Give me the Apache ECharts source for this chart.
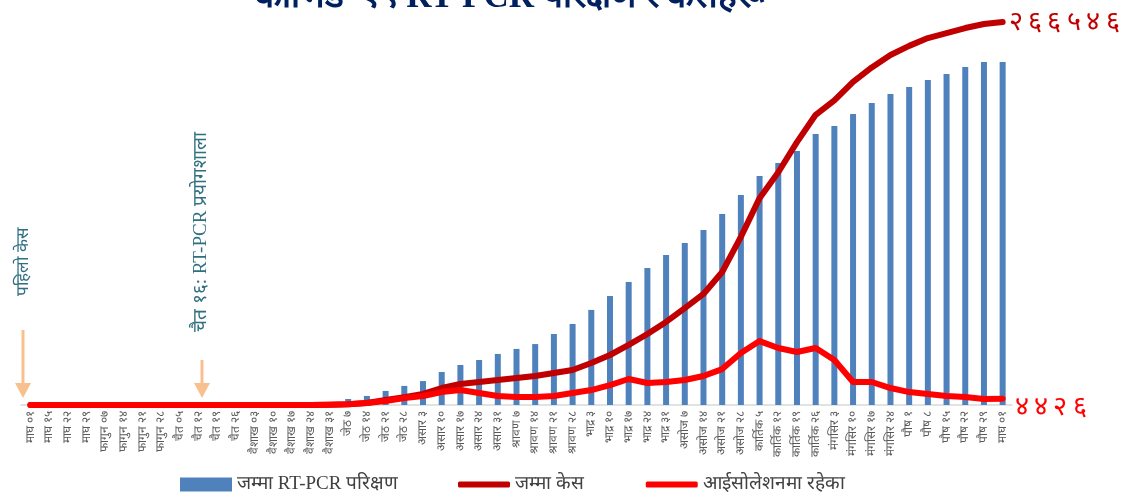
<!DOCTYPE html>
<html>
<head>
<meta charset="utf-8">
<script src="https://cdn.jsdelivr.net/npm/echarts@6/dist/echarts.min.js"></script>
<style>
  html, body { margin: 0; padding: 0; background: #fff; }
  #chart { width: 1135px; height: 493px; }
</style>
</head>
<body>
<div id="chart"></div>
<script>
// x-axis categories (Nepali dates)
const dates = [
  'माघ ०१', 'माघ १५', 'माघ २२', 'माघ २९', 'फागुन ०७', 'फागुन १४', 'फागुन २१', 'फागुन २८',
  'चैत ०५', 'चैत १२', 'चैत १९', 'चैत २६', 'वैशाख ०३', 'वैशाख १०', 'वैशाख १७', 'वैशाख २४',
  'वैशाख ३१', 'जेठ ७', 'जेठ १४', 'जेठ २१', 'जेठ २८', 'असार ३', 'असार १०', 'असार १७',
  'असार २४', 'असार ३१', 'श्रावण ७', 'श्रावण १४', 'श्रावण २१', 'श्रावण २८', 'भाद्र ३', 'भाद्र १०',
  'भाद्र १७', 'भाद्र २४', 'भाद्र ३१', 'असोज ७', 'असोज १४', 'असोज २१', 'असोज २८', 'कार्तिक ५',
  'कार्तिक १२', 'कार्तिक १९', 'कार्तिक २६', 'मंगसिर ३', 'मंगसिर १०', 'मंगसिर १७', 'मंगसिर २४', 'पौष १',
  'पौष ८', 'पौष १५', 'पौष २२', 'पौष २९', 'माघ ०१'
];

// total RT-PCR tests (bars)
const tests = [
  0, 0, 0, 0, 0, 0, 0, 0, 0, 0, 500, 1500, 3000, 5000, 8000, 12000, 18000,
  36000, 54000, 84000, 114000, 143000, 197000, 239000, 269000, 305000, 335000,
  364000, 424000, 484000, 568000, 651000, 735000, 818000, 896000, 968000, 1045000,
  1141000, 1255000, 1368000, 1446000, 1517000, 1619000, 1667000, 1738000, 1804000,
  1858000, 1900000, 1942000, 1977000, 2019000, 2049000, 2049000
];

// total cases
const cases = [
  1, 1, 1, 1, 1, 1, 1, 1, 1, 2, 5, 9, 16, 31, 45, 82, 249,
  500, 1400, 3500, 5500, 7700, 11800, 14600, 16000, 17400, 18800, 20200, 22300,
  24400, 29200, 34800, 41800, 49400, 57800, 67500, 77300, 92600, 117000, 144000,
  162000, 183000, 202000, 212000, 225000, 235000, 243600, 250000, 255400, 258900,
  262400, 265200, 266546
];

// in isolation
const isolation = [
  1, 1, 1, 1, 1, 1, 1, 1, 1, 2, 4, 8, 13, 20, 28, 50, 220,
  500, 1400, 2800, 4900, 6300, 9000, 10400, 8400, 6300, 5600, 5600, 6300,
  8400, 10400, 13900, 18100, 15300, 16000, 17400, 20200, 25000, 36200, 44500,
  39700, 36900, 39700, 31300, 16000, 16000, 11800, 9000, 7700, 6300, 5600, 4200, 4426
];

const legendNames = ['जम्मा RT-PCR परिक्षण', 'जम्मा केस', 'आईसोलेशनमा रहेका'];

const devaDigits = ['०', '१', '२', '३', '४', '५', '६', '७', '८', '९'];
function toDeva(n) {
  // spaced out a little like the original slide
  return String(n).split('').map(d => devaDigits[+d]).join('\u2009');
}

const serif = "'Liberation Serif', 'Noto Serif', serif";
const teal = '#2f6f80';
const arrowColor = '#f9c08f';

let myChart = echarts.init(document.getElementById('chart'));

myChart.setOption({
  animation: false,
  grid: { left: 21, right: 123, top: 20, bottom: 88 },
  legend: [
    {
      data: [{ name: legendNames[0], icon: 'rect' }],
      left: 175, top: 470,
      itemWidth: 52, itemHeight: 14,
      textStyle: { fontFamily: serif, fontSize: 19, color: '#404040' }
    },
    {
      data: [
        { name: legendNames[1], icon: 'roundRect' },
        { name: legendNames[2], icon: 'roundRect' }
      ],
      left: 453, top: 470,
      itemWidth: 52, itemHeight: 6, itemGap: 62,
      textStyle: { fontFamily: serif, fontSize: 19, color: '#404040' }
    }
  ],
  xAxis: {
    type: 'category',
    data: dates,
    axisLine: { lineStyle: { color: '#d9d9d9', width: 1.5 } },
    axisTick: { show: false },
    axisLabel: {
      interval: 0, rotate: 90, margin: 6,
      fontFamily: serif, fontSize: 12, color: '#595959'
    }
  },
  yAxis: [
    { type: 'value', min: 0, max: 2300000, show: false, splitLine: { show: false } },
    { type: 'value', min: 0, max: 268000, show: false, splitLine: { show: false } }
  ],
  series: [
    {
      name: legendNames[0],
      type: 'bar',
      data: tests,
      yAxisIndex: 0,
      barWidth: 6,
      itemStyle: { color: '#4f81bd' }
    },
    {
      name: legendNames[1],
      type: 'line',
      data: cases,
      yAxisIndex: 1,
      symbol: 'none',
      z: 3,
      itemStyle: { color: '#c00000' },
      lineStyle: { color: '#c00000', width: 6, cap: 'round', join: 'round' },
      endLabel: {
        show: true,
        formatter: p => toDeva(p.value),
        color: '#c00000', fontSize: 27, fontFamily: serif, distance: 6, offset: [0, 1]
      }
    },
    {
      name: legendNames[2],
      type: 'line',
      data: isolation,
      yAxisIndex: 1,
      symbol: 'none',
      z: 4,
      itemStyle: { color: '#ff0000' },
      lineStyle: { color: '#ff0000', width: 6, cap: 'round', join: 'round' },
      endLabel: {
        show: true,
        formatter: p => toDeva(p.value),
        color: '#ff0000', fontSize: 27, fontFamily: serif, distance: 12, offset: [0, 9]
      }
    }
  ],
  graphic: [
    {
      type: 'text', left: 255, top: -20,
      style: {
        text: 'कोभिड–१९ RT-PCR परिक्षण र केसहरू',
        fill: '#002060', font: "bold 35px 'Liberation Serif', serif"
      }
    },
    // first case annotation
    {
      type: 'text', x: 24, y: 262, rotation: Math.PI / 2,
      style: {
        text: 'पहिलो केस', fill: teal,
        font: "17px 'Liberation Serif', serif",
        align: 'center', verticalAlign: 'middle'
      }
    },
    { type: 'line', shape: { x1: 23, y1: 330, x2: 23, y2: 384 }, style: { stroke: arrowColor, lineWidth: 3 } },
    { type: 'polygon', shape: { points: [[15, 383], [31, 383], [23, 398]] }, style: { fill: arrowColor } },
    // RT-PCR lab annotation
    {
      type: 'text', x: 201, y: 232, rotation: Math.PI / 2,
      style: {
        text: 'चैत १६: RT-PCR प्रयोगशाला', fill: teal,
        font: "19px 'Liberation Serif', serif",
        align: 'center', verticalAlign: 'middle'
      }
    },
    { type: 'line', shape: { x1: 202, y1: 360, x2: 202, y2: 384 }, style: { stroke: arrowColor, lineWidth: 3 } },
    { type: 'polygon', shape: { points: [[194, 383], [210, 383], [202, 398]] }, style: { fill: arrowColor } }
  ]
});
</script>
</body>
</html>
